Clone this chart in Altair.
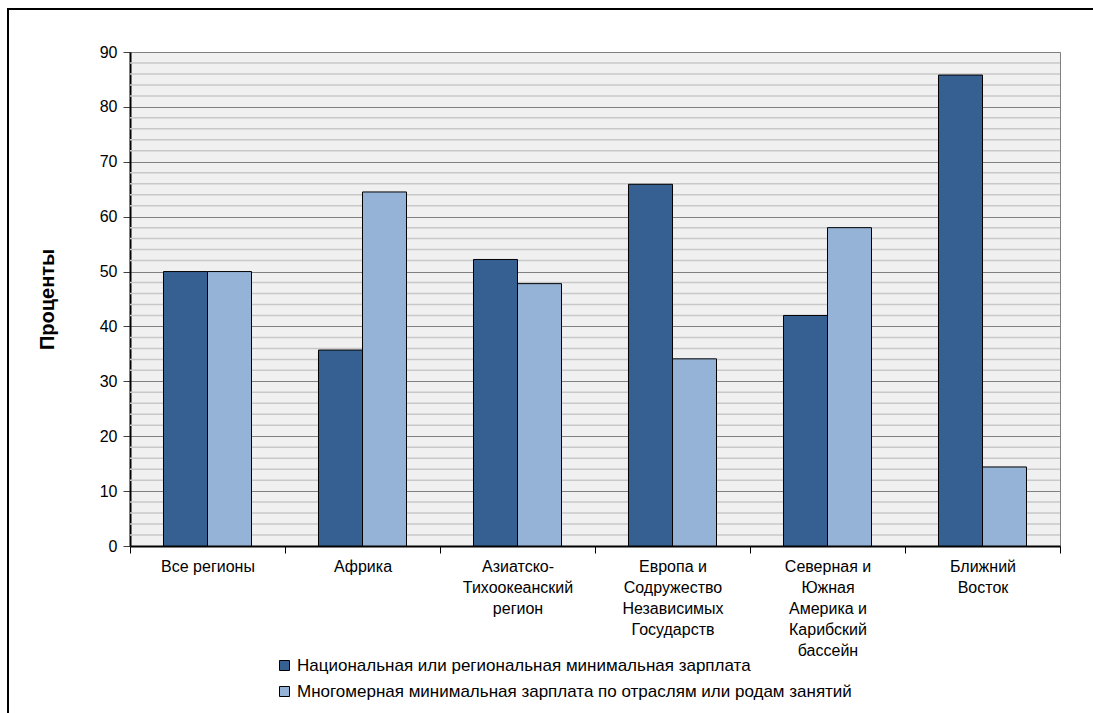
import altair as alt
import pandas as pd

categories = [
    "Все регионы",
    "Африка",
    "Азиатско-\nТихоокеанский\nрегион",
    "Европа и\nСодружество\nНезависимых\nГосударств",
    "Северная и\nЮжная\nАмерика и\nКарибский\nбассейн",
    "Ближний\nВосток",
]
series = [
    "Национальная или региональная минимальная зарплата",
    "Многомерная минимальная зарплата по отраслям или родам занятий",
]
national = [50.0, 35.7, 52.2, 65.9, 42.0, 85.8]
multi = [50.0, 64.5, 47.8, 34.1, 58.0, 14.4]
colors = ["#376092", "#95B3D7"]
y_major = list(range(0, 91, 10))
y_minor = [v for v in range(2, 90, 2) if v % 10]

rows = []
for c, a, b in zip(categories, national, multi):
    rows.append({"region": c, "series": series[0], "value": a})
    rows.append({"region": c, "series": series[1], "value": b})
df = pd.DataFrame(rows)

FONT = "Liberation Sans, Arial, sans-serif"

yscale = alt.Scale(domain=[0, 90], nice=False, zero=True)
yaxis = alt.Axis(
    title="Проценты",
    values=y_major,
    titleFont="Liberation Sans Narrow, Liberation Sans, Arial, sans-serif",
    titleFontSize=20,
    titleFontWeight="bold",
    titleColor="black",
    titlePadding=42,
    labelFont=FONT,
    labelFontSize=16,
    labelColor="black",
    labelPadding=6,
    tickColor="#404040",
    tickSize=7,
    domainColor="black",
    domainWidth=2,
    grid=True,
    gridColor="#808080",
    gridWidth=1,
)

minor = alt.Chart(pd.DataFrame({"value": y_minor})).mark_rule(
    color="#c8c8c8", strokeWidth=1.5
).encode(y=alt.Y("value:Q", scale=yscale, axis=yaxis))

bars = alt.Chart(df).mark_bar(stroke="black", strokeWidth=1).encode(
    x=alt.X(
        "region:N",
        sort=categories,
        scale=alt.Scale(paddingInner=0, paddingOuter=0),
        axis=alt.Axis(
            title=None,
            labelExpr="split(datum.label, '\\n')",
            labelAngle=0,
            labelFont=FONT,
            labelFontSize=16,
            labelColor="black",
            labelLineHeight=21,
            labelPadding=5,
            tickBand="extent",
            tickColor="black",
            tickSize=7,
            tickWidth=1,
            domainColor="black",
            domainWidth=2,
            grid=False,
        ),
    ),
    xOffset=alt.XOffset("series:N", sort=series,
                        scale=alt.Scale(paddingInner=0, paddingOuter=0.761)),
    y=alt.Y("value:Q", scale=yscale, axis=yaxis),
    color=alt.Color(
        "series:N",
        sort=series,
        scale=alt.Scale(domain=series, range=colors),
        legend=alt.Legend(
            title=None,
            orient="none",
            legendX=146,
            legendY=605,
            direction="vertical",
            symbolType="square",
            symbolSize=100,
            symbolStrokeColor="black",
            symbolStrokeWidth=1,
            symbolOpacity=1,
            labelFont=FONT,
            labelFontSize=17,
            labelColor="black",
            labelLimit=800,
            rowPadding=8,
            labelOffset=4,
        ),
    ),
)

frame = alt.Chart(alt.Data(values=[{}])).mark_rect(
    fill=None, stroke="black", strokeWidth=2
).encode(
    x=alt.value(-122), y=alt.value(-43), x2=alt.value(1100), y2=alt.value(800)
)

chart = alt.layer(minor, bars, frame).properties(
    width=930,
    height=494,
    autosize=alt.AutoSizeParams(type="none"),
    padding={"left": 130, "top": 52, "right": 33, "bottom": 167},
    background="white",
).configure_view(
    fill="#F0F0F0", stroke="#808080", strokeWidth=1
)

chart.save("out.html", embed_options={"renderer": "svg", "actions": False})
